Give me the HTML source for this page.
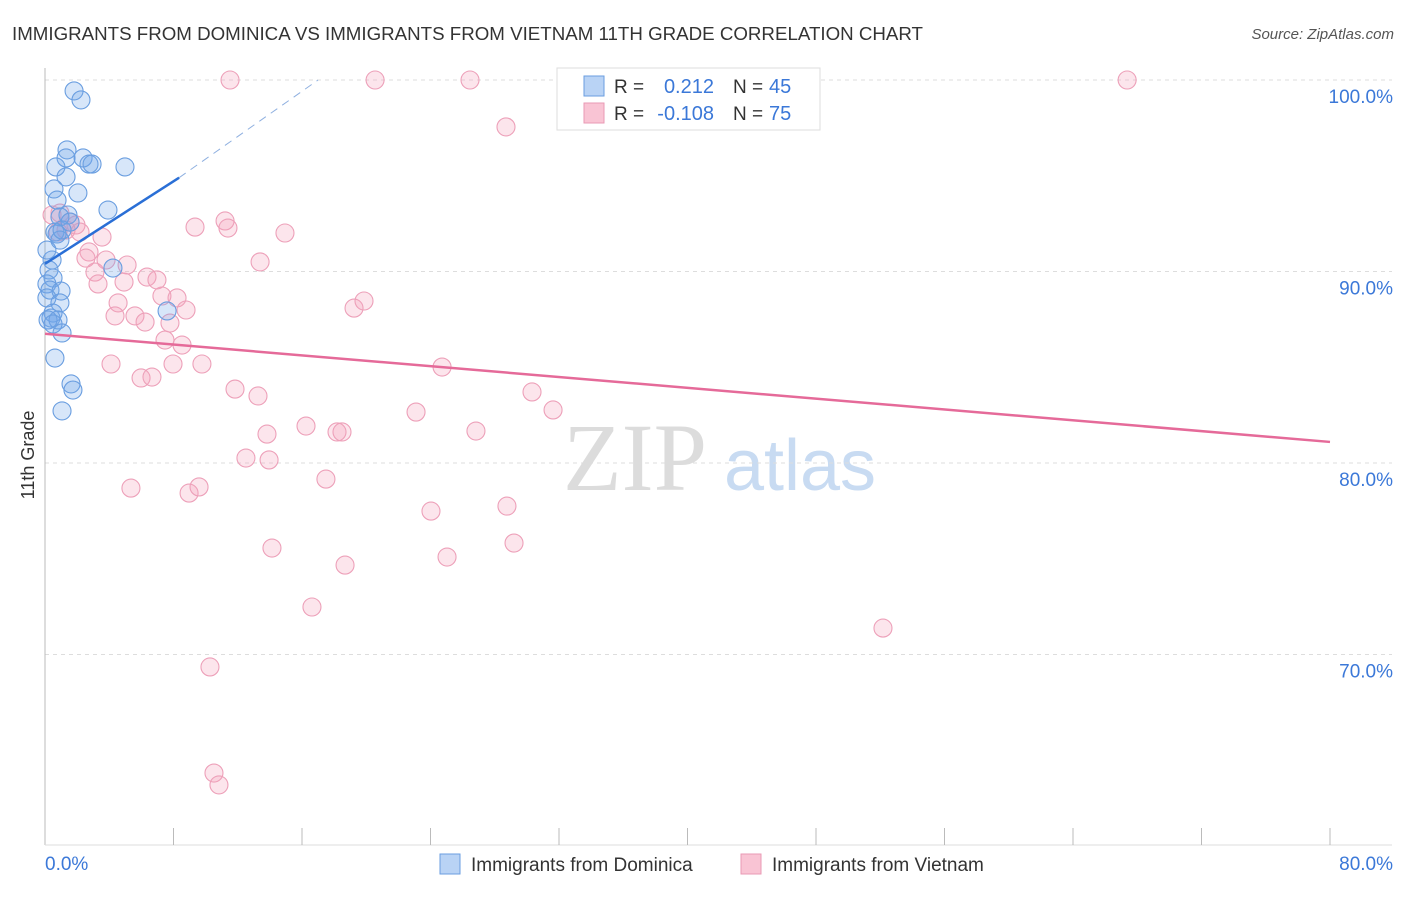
<!DOCTYPE html>
<html><head><meta charset="utf-8"><style>
body{margin:0;background:#fff;font-family:"Liberation Sans",sans-serif}
</style></head><body>
<svg id="chart" width="1406" height="892" xmlns="http://www.w3.org/2000/svg" font-family="Liberation Sans, sans-serif">
<text x="12" y="40" font-size="18" fill="#333" textLength="911" lengthAdjust="spacingAndGlyphs">IMMIGRANTS FROM DOMINICA VS IMMIGRANTS FROM VIETNAM 11TH GRADE CORRELATION CHART</text>
<text x="1394" y="39" font-size="15" fill="#555" text-anchor="end" font-style="italic">Source: ZipAtlas.com</text>
<text x="34" y="455" font-size="18" fill="#333" text-anchor="middle" transform="rotate(-90 34 455)">11th Grade</text>
<g>
<text x="635" y="490" font-size="96" font-family="Liberation Serif, serif" fill="#dcdcdc" text-anchor="middle">ZIP</text>
<text x="800" y="490" font-size="72" fill="#c8dbf2" text-anchor="middle">atlas</text>
</g>
<g id="grid"></g><g id="axes"></g><g id="pts"></g><g id="trend"></g>
<g>
<rect x="557" y="68" width="263" height="62" fill="#fff" stroke="#ddd"/>
<rect x="584" y="76" width="20" height="20" fill="#b9d3f5" stroke="#6a9ee0"/>
<rect x="584" y="103" width="20" height="20" fill="#f9c4d4" stroke="#e99ab4"/>
<text x="614" y="93" font-size="19" fill="#333">R =</text>
<text x="714" y="93" font-size="20" fill="#3b78d8" text-anchor="end">0.212</text>
<text x="733" y="93" font-size="19" fill="#333">N =</text>
<text x="769" y="93" font-size="20" fill="#3b78d8">45</text>
<text x="614" y="120" font-size="19" fill="#333">R =</text>
<text x="714" y="120" font-size="20" fill="#3b78d8" text-anchor="end">-0.108</text>
<text x="733" y="120" font-size="19" fill="#333">N =</text>
<text x="769" y="120" font-size="20" fill="#3b78d8">75</text>
</g>
<g>
<rect x="440" y="854" width="20" height="20" fill="#b9d3f5" stroke="#6a9ee0"/>
<text x="471" y="871" font-size="19" fill="#333">Immigrants from Dominica</text>
<rect x="741" y="854" width="20" height="20" fill="#f9c4d4" stroke="#e99ab4"/>
<text x="772" y="871" font-size="19" fill="#333">Immigrants from Vietnam</text>
</g>
</svg>
<script>
const yTicks=[100,90,80,70];
const yTickLabels=["100.0%","90.0%","80.0%","70.0%"];
const xTickLabels=["0.0%","80.0%"];
const blueX=[1.81,2.24,1.37,1.31,2.37,2.74,2.93,0.68,4.98,1.31,0.56,2.05,0.75,3.92,1.43,0.93,0.62,0.75,0.93,0.44,0.25,0.50,0.12,0.31,1.00,0.12,0.93,0.50,0.37,0.81,0.19,0.50,1.06,7.60,4.23,0.62,1.62,1.74,1.06,0.12,1.06,1.56];
const blueY=[99.43,98.96,96.35,95.93,95.93,95.61,95.61,95.46,95.46,94.94,94.31,94.10,93.73,93.21,92.95,92.85,92.06,91.96,91.64,90.60,90.08,89.66,89.35,89.03,88.98,88.62,88.36,87.83,87.57,87.47,87.47,87.26,86.79,87.94,90.18,85.48,84.13,83.81,82.72,91.12,92.17,92.58];
const pinkX=[11.52,20.55,26.46,43.15,67.37,28.70,0.44,0.93,1.56,1.93,0.81,2.18,1.31,3.55,2.74,2.55,3.80,5.11,3.11,3.30,4.92,6.35,6.97,4.55,7.28,8.22,8.78,4.36,5.60,6.23,7.78,7.47,8.53,4.11,7.97,9.77,5.98,6.66,9.34,11.21,11.39,14.94,13.39,19.24,19.86,24.72,30.32,31.63,11.83,13.26,23.10,13.82,16.25,18.18,18.49,26.83,12.51,13.95,5.35,8.97,9.59,17.49,24.03,28.76,14.13,29.20,25.03,18.68,16.62,52.17,10.27,10.52,10.83];
const pinkY=[100,100,100,100,100,97.55,92.95,93.05,92.58,92.43,92.06,92.06,92.17,91.80,91.02,90.70,90.60,90.34,89.97,89.35,89.45,89.71,89.56,88.36,88.72,88.62,87.99,87.68,87.68,87.36,87.31,86.42,86.16,85.17,85.17,85.17,84.44,84.49,92.32,92.64,92.27,92.01,90.50,88.09,88.46,85.01,83.71,82.77,83.86,83.50,82.66,81.51,81.93,81.62,81.62,81.67,80.26,80.16,78.69,78.43,78.75,79.16,77.49,77.75,75.56,75.82,75.09,74.67,72.48,71.38,69.35,63.81,63.19];
const blueTrend=[0,90.4,8.35,94.9,17.0,100];
const pinkTrend=[0,86.75,80,81.1];
const NS="http://www.w3.org/2000/svg";
const X=v=>45+v/80*1285, Y=v=>80+(100-v)*19.15;
function mk(p,t,a){const e=document.createElementNS(NS,t);for(const k in a)e.setAttribute(k,a[k]);p.appendChild(e);return e;}
const grid=document.getElementById('grid'),axes=document.getElementById('axes'),pts=document.getElementById('pts'),tr=document.getElementById('trend');
yTicks.forEach((t,i)=>{
 const l=mk(grid,'line',{x1:45,x2:1392,y1:Y(t),y2:Y(t),stroke:'#ddd','stroke-dasharray':'4,4'});
 
 
 const tx=mk(grid,'text',{x:1393,y:Y(t)+23,'font-size':19,fill:'#3b78d8','text-anchor':'end'});tx.textContent=yTickLabels[i];
 
 
});
const ya=mk(axes,'line',{x1:45,x2:45,y1:68,y2:845,stroke:'#bbb'});


const xa=mk(axes,'line',{x1:45,x2:1392,y1:845,y2:845,stroke:'#ddd'});


for(let v=8;v<=80;v+=8){const t=mk(axes,'line',{x1:X(v),x2:X(v),y1:828,y2:845,stroke:'#bbb'});
 
 }
[[0,'start',45],[80,'end',1393]].forEach((d,i)=>{const t=mk(axes,'text',{x:d[2],y:870,'font-size':19,fill:'#3b78d8','text-anchor':d[1]});t.textContent=xTickLabels[i];
 
 });
pinkX.forEach((x,i)=>{const c=mk(pts,'circle',{cx:X(x),cy:Y(pinkY[i]),r:9,fill:'rgba(244,160,188,0.28)',stroke:'#eda0b9','stroke-width':1.1});
 
 });
blueX.forEach((x,i)=>{const c=mk(pts,'circle',{cx:X(x),cy:Y(blueY[i]),r:9,fill:'rgba(110,165,235,0.28)',stroke:'#6a9ee0','stroke-width':1.1});
 
 });
const b1=mk(tr,'line',{x1:X(blueTrend[0]),y1:Y(blueTrend[1]),x2:X(blueTrend[2]),y2:Y(blueTrend[3]),stroke:'#2a6fd6','stroke-width':2.5});


const b2=mk(tr,'line',{x1:X(blueTrend[2]),y1:Y(blueTrend[3]),x2:X(blueTrend[4]),y2:Y(blueTrend[5]),stroke:'#8fb0e0','stroke-width':1,'stroke-dasharray':'8,6'});


const p1=mk(tr,'line',{x1:X(pinkTrend[0]),y1:Y(pinkTrend[1]),x2:X(pinkTrend[2]),y2:Y(pinkTrend[3]),stroke:'#e56a99','stroke-width':2.5});


</script>
</body></html>
